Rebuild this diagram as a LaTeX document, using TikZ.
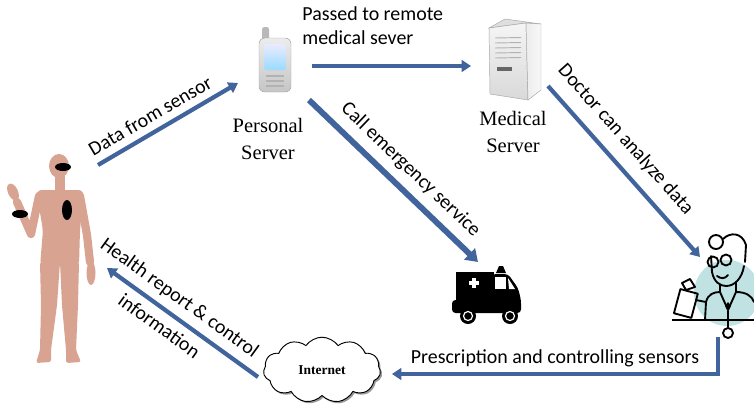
\documentclass[tikz,border=0pt]{standalone}
\usepackage{fontspec}
\setmainfont{Liberation Serif}
\setsansfont{Carlito}
\usetikzlibrary{positioning, arrows.meta, shapes.symbols, shadows}

\definecolor{flowblue}{RGB}{64,100,155}
\definecolor{skin}{RGB}{217,163,146}
\definecolor{docteal}{RGB}{192,226,226}

\begin{document}
\begin{tikzpicture}[
  x=0.03cm, y=-0.03cm,
  flow/.style={-{Triangle[length=8pt, width=10pt]}, line width=3.6pt, flowblue},
  back/.style={{Triangle[length=8pt, width=10pt]}-, line width=3.6pt, flowblue},
  alert/.style={-{Triangle[length=10pt, width=13pt]}, line width=5pt, flowblue},
  lbl/.style={font=\sffamily\fontsize{17}{20.5}\selectfont, text=black, inner sep=1pt},
  dev/.style={font=\fontsize{17.5}{23}\selectfont, align=center},
  limb/.style={skin, line width=7pt, line cap=round, line join=round},
  ink/.style={line width=1.6pt, line cap=round, line join=round}
]
\useasboundingbox (0,0) rectangle (754,410);

% patient with the worn sensors
\fill[skin] (59,166) ellipse (10 and 12);
\fill[skin] (55,176) rectangle (65,192);
\fill[skin, rounded corners=5] (36,190) -- (84,190) -- (80,230) -- (79,266) -- (40,266) -- (43,230) -- cycle;
\fill[skin, rounded corners=2] (40,262) -- (60,262) -- (57,305) -- (51,350) -- (51,362) -- (36,363) -- (40,350) -- (41,305) -- cycle;
\fill[skin, rounded corners=2] (60,262) -- (79,262) -- (78,305) -- (76,350) -- (81,362) -- (66,363) -- (66,350) -- (62,305) -- cycle;
\draw[limb] (39,196) -- (31,234) -- (17,202);
\fill[skin, rotate around={25:(13,192)}] (13,192) ellipse (5 and 9);
\draw[limb] (80,196) -- (87,235) -- (90,262);
\fill[skin] (91,273) ellipse (4.5 and 12);
\fill (63,167) ellipse (8 and 4);
\fill (67,210) ellipse (5 and 10);
\fill (20,214) ellipse (8 and 4);

% handset
\fill[gray!55, rounded corners=2] (262,27) rectangle (269,44);
\shade[top color=gray!15, bottom color=gray!45, draw=gray!70, rounded corners=5] (259,38) rectangle (291,92);
\shade[top color=blue!8, bottom color=blue!35!cyan!40, rounded corners=2] (264,44) rectangle (286,70);
\foreach \ky in {76,81,86}
  \draw[gray!60, line width=1pt] (266,\ky) -- (284,\ky);
\node[dev] (personal) at (268,139) {Personal\\Server};

% server tower
\fill[gray!25, draw=gray!70] (489,28) -- (505,19) -- (541,24) -- (526,23) -- cycle;
\shade[top color=gray!8, bottom color=gray!30, draw=gray!70] (489,28) -- (526,23) -- (528,100) -- (490,94) -- cycle;
\shade[left color=gray!15, right color=gray!5, draw=gray!70] (526,23) -- (541,24) -- (541,90) -- (528,100) -- cycle;
\foreach \vy in {38,43,48,53,58}
  \draw[gray!60, line width=0.8pt] (495,\vy) -- (521,\vy-0.5);
\fill[gray!80!black] (497,67) rectangle (512,71);
\node[dev] (medical) at (513,132) {Medical\\Server};

% ambulance
\fill (456,272) rectangle (494,312);
\fill[rounded corners=3] (492,274) -- (508,274) -- (518,288) -- (521,300) -- (521,313) -- (452,313) -- (452,300) -- (492,300) -- cycle;
\fill (496,273) -- (499,266) -- (503,266) -- (506,273) -- cycle;
\fill[white] (495,277) rectangle (506,289);
\fill[white] (508,278) -- (515,289) -- (509,289) -- cycle;
\fill[white] (472,278) rectangle (476,288);
\fill[white] (469,281) rectangle (479,285);
\foreach \wx in {468,510} {
  \fill (\wx,316) circle (8);
  \draw[white, line width=1pt] (\wx,316) circle (4.5);
}

% doctor
\fill[docteal] (727,293) circle (33);
\draw[ink] (716,242) circle (7);
\draw[ink] (723,239) .. controls (730,232) and (742,232) .. (746,245) -- (745,262);
\draw[ink] (711,256) -- (712,272) .. controls (714,282) and (720,286) .. (726,286) .. controls (735,286) and (742,278) .. (744,266);
\draw[ink] (713,262) circle (5.5) (726,260) circle (5.5);
\draw[ink] (717,276) .. controls (721,279) and (725,279) .. (728,275);
\draw[ink] (720,285) -- (720,292) (736,282) -- (736,292);
\draw[ink] (705,320) -- (706,302) .. controls (708,294) and (714,292) .. (720,292) -- (728,310) -- (736,292) .. controls (746,292) and (752,296) .. (754,302);
\fill (728,302) -- (725,306) -- (728,311) -- (731,306) -- cycle;
\draw[ink] (728,311) -- (728,327);
\draw[ink] (728,333) circle (5);
\draw[ink, rotate around={-15:(686,303)}] (677,291) rectangle (695,316);
\draw[ink] (682,283) -- (690,279) -- (695,287) -- (686,290) -- cycle;
\draw[ink] (706,302) -- (696,300);
\draw[line width=1.8pt] (672,320) -- (754,320);

% internet cloud
\node[cloud, cloud puffs=11, cloud puff arc=110, aspect=1.9, draw, line width=0.8pt, fill=white,
  minimum width=100pt, minimum height=56pt,
  drop shadow={shadow xshift=1.5pt, shadow yshift=-1.5pt, opacity=0.8},
  font=\bfseries\fontsize{11.5}{13}\selectfont] (internet) at (322,370) {Internet};

% arrow ends
\coordinate (sensorOut) at (98,165);
\coordinate (phoneIn) at (238,83);
\coordinate (phoneOut) at (312,66);
\coordinate (serverIn) at (471,66);
\coordinate (phoneDown) at (309,100);
\coordinate (ambIn) at (478,262);
\coordinate (serverOut) at (548,86);
\coordinate (docIn) at (700,257);
\coordinate (docOut) at (718,337);
\coordinate (cloudIn) at (392,374);
\coordinate (cloudOut) at (258,377);
\coordinate (personIn) at (107,268);

\draw[flow] (sensorOut) -- node[lbl, sloped, above=5pt, pos=0.43] (sensorLbl) {Data from sensor} (phoneIn);
\draw[flow] (phoneOut) -- (serverIn);
\node[lbl, align=left, anchor=north west] (passedLbl) at (301,5) {Passed to remote\\medical sever};
\draw[alert] (phoneDown) -- node[lbl, sloped, above=6pt, pos=0.52] (callLbl) {Call emergency service} (ambIn);
\draw[flow] (serverOut) -- node[lbl, sloped, above=9pt, pos=0.4] (doctorLbl) {Doctor can analyze data} (docIn);
\draw[flow] (docOut) |- node[lbl, above=3pt, pos=0.75] (prescLbl) {Prescription and controlling sensors} (cloudIn);
\draw[back] (personIn) -- node[lbl, sloped, above=5pt, pos=0.41] (healthLbl) {Health report \& control}
  node[lbl, sloped, below=5pt, pos=0.41] (infoLbl) {information} (cloudOut);
\end{tikzpicture}
\end{document}
